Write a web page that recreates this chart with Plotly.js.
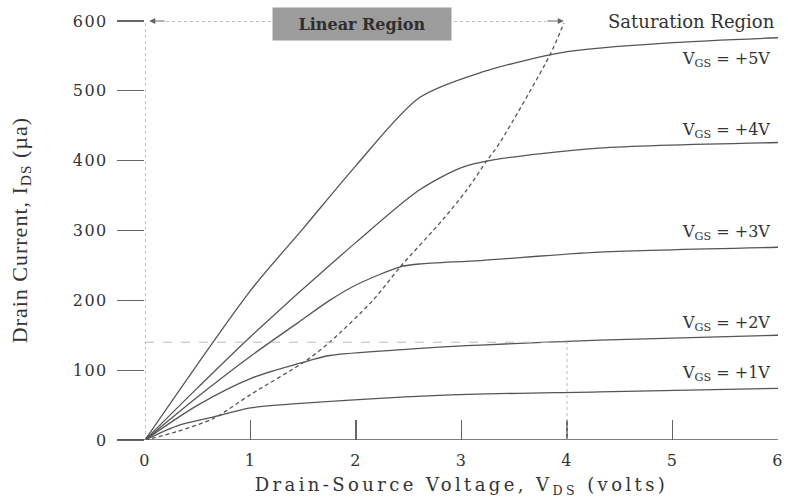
<!DOCTYPE html>
<html>
<head>
<meta charset="utf-8">
<script src="https://cdn.plot.ly/plotly-3.0.1.min.js"></script>
<style>html,body{margin:0;padding:0;background:#fff;}#chart{width:788px;height:498px;}</style>
</head>
<body>
<div id="chart"></div>
<script>
// Drain-source voltage (V) and drain current (µA)
const vgs5_x = [0, 1, 1.5, 2, 2.6, 3.2, 4, 5, 6];
const vgs5_y = [0, 214, 303, 393, 490, 527, 556, 569, 576];

const vgs4_x = [0, 0.5, 1, 2, 2.6, 3.0, 3.3, 4.3, 6];
const vgs4_y = [0, 75, 148, 283, 358, 390, 401, 418, 426];

const vgs3_x = [0, 0.5, 1, 1.44, 1.75, 2.0, 2.42, 2.6, 3.18, 4.31, 6];
const vgs3_y = [0, 62, 120, 167, 200, 222, 248, 252, 257, 269, 276];

const vgs2_x = [0, 0.5, 1, 1.47, 1.75, 2.5, 2.79, 3.18, 4.31, 6];
const vgs2_y = [0, 50, 88, 110, 121, 130, 133, 136, 143, 150];

const vgs1_x = [0, 0.3, 0.65, 1, 1.44, 2.79, 4.31, 6];
const vgs1_y = [0, 20, 33, 46, 52, 64, 69, 74];

const boundary_x = [0, 0.3, 0.65, 1, 1.53, 1.75, 2.16, 2.42, 2.82, 3.05, 3.24, 3.36, 3.84, 3.97];
const boundary_y = [0, 12, 31, 65, 114, 140, 200, 248, 315, 358, 400, 425, 552, 597];

const xTicks = [0, 1, 2, 3, 4, 5, 6];
const yTicks = [0, 100, 200, 300, 400, 500, 600];

const curveLabels = ['V<sub>GS</sub> = +5V', 'V<sub>GS</sub> = +4V', 'V<sub>GS</sub> = +3V', 'V<sub>GS</sub> = +2V', 'V<sub>GS</sub> = +1V'];
const labelY = [545, 443, 297, 167, 95];

const refCurrent = 140;   // dotted guide level
const refVoltage = 4;     // dotted guide position

const serif = 'DejaVu Serif, serif';
const lineCol = '#555';

const solid = (x, y) => ({x, y, type: 'scatter', mode: 'lines',
  line: {color: lineCol, width: 1.3, shape: 'spline', smoothing: 0.8}, hoverinfo: 'skip'});

const traces = [
  solid(vgs5_x, vgs5_y), solid(vgs4_x, vgs4_y), solid(vgs3_x, vgs3_y),
  solid(vgs2_x, vgs2_y), solid(vgs1_x, vgs1_y),
  {x: boundary_x, y: boundary_y, type: 'scatter', mode: 'lines',
   line: {color: '#555', width: 1.3, dash: '4px,3px', shape: 'spline', smoothing: 0.8}, hoverinfo: 'skip'}
];

const annotations = curveLabels.map((t, i) => ({
  text: t, xref: 'paper', x: 0.9905, xanchor: 'right', yref: 'y', y: labelY[i], yanchor: 'middle',
  showarrow: false, font: {family: serif, size: 16, color: '#333'}
}));

annotations.push({text: 'Saturation Region', xref: 'paper', x: 0.998, xanchor: 'right', yref: 'y', y: 599,
  yanchor: 'middle', showarrow: false, font: {family: serif, size: 18, color: '#333'}});
annotations.push({text: '<b>Linear Region</b>', xref: 'x', x: 2.06, yref: 'y', y: 596, showarrow: false,
  bgcolor: '#9c9c9c', width: 176, height: 30, font: {family: serif, size: 16, color: '#2e2e2e'}});
annotations.push({text: '', xref: 'x', yref: 'y', x: 0.04, y: 600, axref: 'x', ayref: 'y', ax: 0.2, ay: 600,
  showarrow: true, arrowhead: 2, arrowsize: 1.2, arrowwidth: 1, arrowcolor: '#666'});
annotations.push({text: '', xref: 'x', yref: 'y', x: 3.97, y: 600, axref: 'x', ayref: 'y', ax: 3.8, ay: 600,
  showarrow: true, arrowhead: 2, arrowsize: 1.2, arrowwidth: 1, arrowcolor: '#666'});
annotations.push({text: 'Drain Current, I<sub>DS</sub> (µa)', xref: 'paper', x: -0.197, xanchor: 'center',
  yref: 'paper', y: 0.5, yanchor: 'middle',
  textangle: -90, showarrow: false, font: {family: 'Liberation Serif, serif', size: 22, color: '#333'}});

const shapes = [
  {type: 'line', xref: 'paper', x0: -0.043, x1: 1, yref: 'y', y0: 0, y1: 0, line: {color: '#555', width: 1.5}},
  {type: 'line', xref: 'x', x0: 0, x1: 0, yref: 'y', y0: 0, y1: 600, line: {color: '#999', width: 1.2, dash: 'dot'}},
  {type: 'line', xref: 'x', x0: 0.2, x1: 3.8, yref: 'y', y0: 600, y1: 600, line: {color: '#777', width: 1, dash: 'dot'}},
  {type: 'line', xref: 'x', x0: 0, x1: refVoltage, yref: 'y', y0: refCurrent, y1: refCurrent, line: {color: '#bbb', width: 1, dash: 'dash'}},
  {type: 'line', xref: 'x', x0: refVoltage, x1: refVoltage, yref: 'y', y0: 0, y1: refCurrent, line: {color: '#bbb', width: 1, dash: 'dot'}}
];

const layout = {
  width: 788, height: 498,
  margin: {l: 145, r: 10, t: 21, b: 58, pad: 0},
  paper_bgcolor: '#fff', plot_bgcolor: '#fff',
  showlegend: false,
  xaxis: {range: [0, 6], tickvals: xTicks, ticktext: xTicks.map(String), ticks: 'inside', ticklen: 20,
    tickcolor: '#666', tickwidth: 1.2, showgrid: false, zeroline: false, showline: false,
    ticklabelstandoff: 9,
    tickfont: {family: serif, size: 16, color: '#333'},
    title: {text: 'Drain-Source Voltage, V<sub>DS</sub> (volts)', font: {family: serif, size: 18, color: '#333'}, standoff: 9}},
  yaxis: {range: [0, 600], tickvals: yTicks, ticktext: yTicks.map(String), ticks: 'outside', ticklen: 27,
    tickcolor: '#666', tickwidth: 1.2, showgrid: false, zeroline: false, showline: false,
    ticklabelstandoff: 6,
    tickfont: {family: serif, size: 16, color: '#333'}},
  annotations, shapes
};

Plotly.newPlot('chart', traces, layout, {staticPlot: true, displayModeBar: false}).then(gd => {
  gd.querySelectorAll('text').forEach(t => {
    const s = t.textContent;
    if (s.startsWith('Drain-Source')) t.style.letterSpacing = '3.4px';
    else if (s.startsWith('Drain Current')) t.style.letterSpacing = '1px';
    else if (/^\d+$/.test(s)) t.style.letterSpacing = '1.5px';
  });
});
</script>
</body>
</html>
